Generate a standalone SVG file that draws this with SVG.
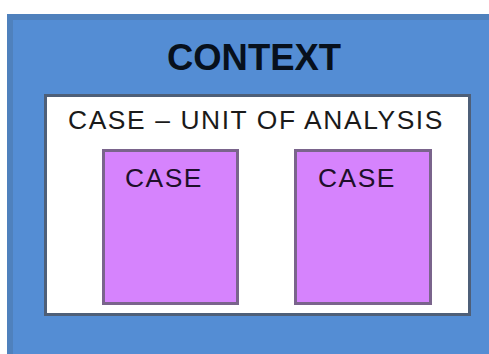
<svg xmlns="http://www.w3.org/2000/svg" width="489" height="354" viewBox="0 0 489 354">
  <style>
    .context { fill: #548dd4; stroke: #4f81bd; stroke-width: 6; }
    .unit { fill: #ffffff; stroke: #4e5f78; stroke-width: 3; }
    .case { fill: #d683fd; stroke: #7a648c; stroke-width: 3; }
    text { font-family: "Liberation Sans", Arial, sans-serif; }
    .title { font-size: 36px; font-weight: bold; fill: #07101c; }
    .label { font-size: 25px; fill: #1a1a1a; letter-spacing: 1.5px; }
    .case-label { font-size: 26px; fill: #1e0f2a; letter-spacing: 1.5px; }
  </style>

  <!-- outer context frame -->
  <g id="context">
    <rect class="context" x="10" y="17" width="492" height="350"/>
    <text class="title" x="254" y="69.5" text-anchor="middle" textLength="174" lengthAdjust="spacingAndGlyphs">CONTEXT</text>
  </g>

  <!-- unit of analysis box -->
  <g id="unit-of-analysis">
    <rect class="unit" x="45.5" y="95.5" width="424" height="219"/>
    <text class="label" x="68" y="129" textLength="376" lengthAdjust="spacingAndGlyphs">CASE – UNIT OF ANALYSIS</text>
  </g>

  <!-- individual cases -->
  <g id="case-1">
    <rect class="case" x="103.5" y="150.5" width="134" height="153"/>
    <text class="case-label" x="125" y="186.5" textLength="78" lengthAdjust="spacingAndGlyphs">CASE</text>
  </g>
  <g id="case-2">
    <rect class="case" x="295.5" y="150.5" width="135" height="153"/>
    <text class="case-label" x="318" y="186.5" textLength="78" lengthAdjust="spacingAndGlyphs">CASE</text>
  </g>

  <g id="connectors"></g>
</svg>
